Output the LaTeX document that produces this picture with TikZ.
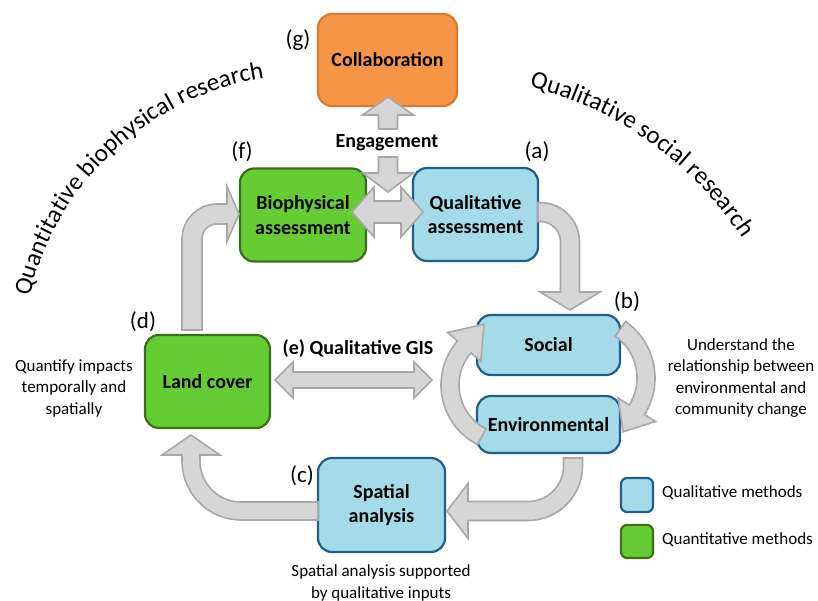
\documentclass[tikz,border=0pt]{standalone}
\usepackage{fontspec}
\setmainfont{Carlito}
\usetikzlibrary{decorations.text}
\definecolor{orfill}{HTML}{F79646}
\definecolor{ordraw}{HTML}{D97A2E}
\definecolor{grfill}{HTML}{66CC33}
\definecolor{grdraw}{HTML}{3C6E1E}
\definecolor{blfill}{HTML}{A5DBE8}
\definecolor{bldraw}{HTML}{1F5F8E}
\definecolor{arfill}{HTML}{D6D6D6}
\definecolor{ardraw}{HTML}{A8A8A8}
\begin{document}
\begin{tikzpicture}[x=1pt,y=-1pt,
  box/.style={draw, rounded corners=14pt, line width=2.2pt, align=center, inner sep=0pt,
    font=\bfseries\fontsize{20}{24.5}\selectfont},
  qual/.style={box, fill=blfill, draw=bldraw},
  quan/.style={box, fill=grfill, draw=grdraw},
  collab/.style={box, fill=orfill, draw=ordraw},
  legbox/.style={draw, rounded corners=6pt, line width=2.2pt, inner sep=0pt, minimum width=32pt, minimum height=33pt},
  blockarrow/.style={fill=arfill, draw=ardraw, line width=1.6pt, line join=miter},
  lbl/.style={font=\fontsize{23}{27}\selectfont, inner sep=0pt},
  note/.style={font=\fontsize{17}{21.5}\selectfont, align=center, inner sep=0pt},
  boldlbl/.style={font=\bfseries\fontsize{20}{24}\selectfont, inner sep=0pt},
]
\useasboundingbox (0,0) rectangle (818,601);

% boxes
\node[collab, minimum width=139pt, minimum height=92pt] (coll) at (387.5,60) {Collaboration};
\node[quan, minimum width=126pt, minimum height=93pt] (bio) at (303,215) {Biophysical\\assessment};
\node[qual, minimum width=125pt, minimum height=93pt] (qa) at (475.5,214.5) {Qualitative\\assessment};
\node[qual, minimum width=143pt, minimum height=60pt] (soc) at (548.5,345) {Social};
\node[qual, minimum width=143pt, minimum height=57pt] (env) at (548.5,424.5) {Environmental};
\node[quan, minimum width=125pt, minimum height=93pt] (land) at (207.5,381.5) {Land cover};
\node[qual, minimum width=127pt, minimum height=94pt] (spat) at (381.5,505) {Spatial\\analysis};

% block arrows
\filldraw[blockarrow] (378.5,129) -- (378.5,115) -- (362.5,115) -- (388,97) -- (413.5,115) -- (397.5,115) -- (397.5,129) -- cycle;
\filldraw[blockarrow] (378.5,157) -- (378.5,173) -- (362.5,173) -- (388,192) -- (413.5,173) -- (397.5,173) -- (397.5,157) -- cycle;
\filldraw[blockarrow] (352,212) -- (374,187) -- (374,201) -- (401,201) -- (401,187) -- (423,212) -- (401,237) -- (401,223) -- (374,223) -- (374,237) -- cycle;
\filldraw[blockarrow] (275,380) -- (293,362) -- (293,372) -- (414,372) -- (414,362) -- (432,380) -- (414,398) -- (414,388) -- (293,388) -- (293,398) -- cycle;
% qualitative assessment -> social
\filldraw[blockarrow] (538,202.5) -- plot[domain=-90:0, samples=20] ({540+39.5*cos(\x)},{242+39.5*sin(\x)})
  -- (579.5,292) -- (600,292) -- (570,310) -- (540,292) -- (560.5,292)
  -- plot[domain=0:-90, samples=20] ({540+20.5*cos(\x)},{242+20.5*sin(\x)}) -- (538,221.5) -- cycle;
% environmental -> spatial
\filldraw[blockarrow] (582.5,458) -- plot[domain=0:90, samples=20] ({528+54.5*cos(\x)},{466+54.5*sin(\x)})
  -- (468,520.5) -- (468,538.5) -- (447,511) -- (468,483.5) -- (468,501.5)
  -- plot[domain=90:0, samples=20] ({528+35.5*cos(\x)},{466+35.5*sin(\x)}) -- (563.5,458) -- cycle;
% spatial -> land cover
\filldraw[blockarrow] (318,502) -- plot[domain=90:180, samples=20] ({241+41*cos(\x)},{461+41*sin(\x)})
  -- (200,455) -- (220,455) -- (191,435) -- (162,455) -- (182,455)
  -- plot[domain=180:90, samples=20] ({241+59*cos(\x)},{461+59*sin(\x)}) -- (318,520) -- cycle;
% land cover -> biophysical
\filldraw[blockarrow] (182,330) -- plot[domain=180:270, samples=20] ({217+35*cos(\x)},{239+35*sin(\x)})
  -- (227,204) -- (227,186.5) -- (239,214) -- (227,241.5) -- (227,224)
  -- plot[domain=270:180, samples=20] ({217+15*cos(\x)},{239+15*sin(\x)}) -- (202,330) -- cycle;
% cycle: environmental -> social (left)
\filldraw[blockarrow] plot[domain=117:221, samples=30] ({508+67*cos(\x)},{385+67*sin(\x)})
  -- (447.6,332.5) -- (483.9,324.3) -- (480.8,361.3)
  -- plot[domain=221:117, samples=30] ({508+49*cos(\x)},{385+49*sin(\x)}) -- cycle;
% cycle: social -> environmental (right)
\filldraw[blockarrow] plot[domain=-55:32, samples=30] ({586+69*cos(\x)},{378+69*sin(\x)})
  -- (655.6,421.5) -- (623.1,431.8) -- (618.2,398.1)
  -- plot[domain=32:-55, samples=30] ({586+51*cos(\x)},{378+51*sin(\x)}) -- cycle;

% labels
\node[lbl] (lg) at (298,40) {(g)};
\node[lbl] (lf) at (242,152) {(f)};
\node[lbl] (la) at (537,152) {(a)};
\node[lbl] (lb) at (627,302) {(b)};
\node[lbl] (lc) at (302,476) {(c)};
\node[lbl] (ld) at (143,322) {(d)};
\node[boldlbl, anchor=base] (eng) at (387,148) {Engagement};
\node[boldlbl, anchor=base] (gis) at (358,354) {(e) Qualitative GIS};

\node[note] (n1) at (741,378) {Understand the\\relationship between\\environmental and\\community change};
\node[note] (n2) at (74,388) {Quantify impacts\\temporally and\\spatially};
\node[note] (n3) at (381,583) {Spatial analysis supported\\by qualitative inputs};

% legend
\node[legbox, fill=blfill, draw=bldraw, minimum height=34pt] (lq1) at (637,495) {};
\node[legbox, fill=grfill, draw=grdraw] (lq2) at (637,541.5) {};
\node[note, anchor=west] (lt1) at (662,493) {Qualitative methods};
\node[note, anchor=west] (lt2) at (662,540) {Quantitative methods};

% arc titles
\path[decorate, decoration={text along path, text align=center,
  text={|\fontsize{25}{25}\selectfont|Quantitative biophysical research}}]
  plot[domain=185:269, samples=60] ({311+289*cos(\x)},{363+289*sin(\x)});
\path[decorate, decoration={text along path, text align=center,
  text={|\fontsize{25}{25}\selectfont|Qualitative social research}}]
  plot[domain=265:346, samples=60] ({443+357*cos(\x)},{433+357*sin(\x)});
\end{tikzpicture}
\end{document}
